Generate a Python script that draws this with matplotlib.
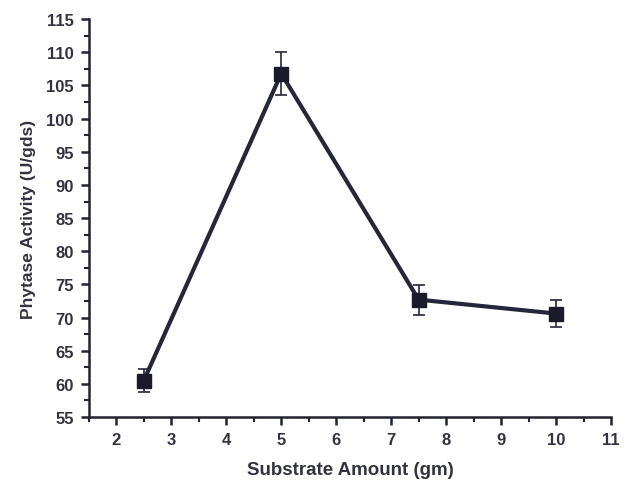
import matplotlib
matplotlib.use('Agg')
import matplotlib.pyplot as plt
from matplotlib.ticker import MultipleLocator

plt.rcParams['font.family'] = ['Liberation Sans', 'DejaVu Sans']
plt.rcParams['font.weight'] = 'bold'

# data
substrate = [2.5, 5, 7.5, 10]
activity = [60.5, 106.8, 72.7, 70.6]
err = [1.8, 3.2, 2.25, 2.1]

fig = plt.figure(figsize=(6.3, 4.81), dpi=100)
ax = fig.add_axes([0.141, 0.131, 0.829, 0.827])

line_color = '#26263a'
ax.errorbar(substrate, activity, yerr=err, color=line_color, linewidth=3,
            marker='s', markersize=10, markerfacecolor='#1a1a2a',
            markeredgecolor='#1a1a2a', ecolor=line_color, elinewidth=1.2,
            capsize=4, capthick=1.2)

ax.set_xlim(1.5, 11)
ax.set_ylim(55, 115)
ax.xaxis.set_major_locator(MultipleLocator(1))
ax.xaxis.set_minor_locator(MultipleLocator(0.5))
ax.yaxis.set_major_locator(MultipleLocator(5))
ax.yaxis.set_minor_locator(MultipleLocator(2.5))
ax.set_xticks(range(2, 12))

ax.spines['top'].set_visible(False)
ax.spines['right'].set_visible(False)
for s in ['left', 'bottom']:
    ax.spines[s].set_linewidth(1.8)
    ax.spines[s].set_color('#222230')

ax.tick_params(which='major', direction='out', length=6, width=1.8, colors='#222230',
               labelsize=12, pad=5)
ax.tick_params(which='minor', direction='out', length=3.5, width=1.5, colors='#222230')
for lab in ax.get_xticklabels() + ax.get_yticklabels():
    lab.set_fontweight('bold')
    lab.set_color('#333340')

ax.set_xlabel('Substrate Amount (gm)', fontsize=13.5, fontweight='bold', color='#333340', labelpad=10)
ax.set_ylabel('Phytase Activity (U/gds)', fontsize=12.5, fontweight='bold', color='#333340', labelpad=7)

plt.savefig('out.png', dpi=100)
plt.close()
